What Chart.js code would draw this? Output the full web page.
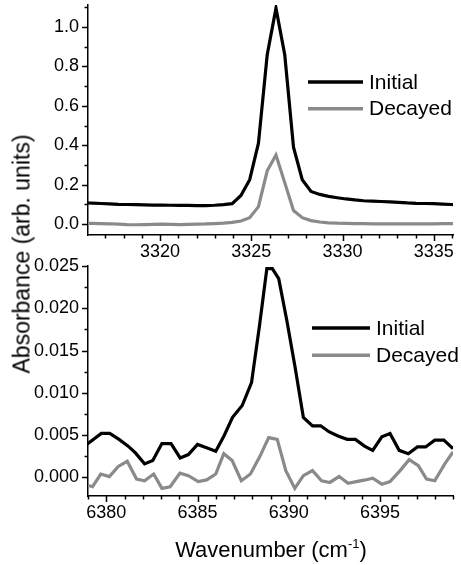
<!DOCTYPE html>
<html><head><meta charset="utf-8">
<script src="https://cdn.jsdelivr.net/npm/chart.js@4/dist/chart.umd.min.js"></script>
<style>
html,body{margin:0;padding:0;background:#fff;width:461px;height:565px;overflow:hidden}
#wrap{position:relative;width:461px;height:565px;font-family:"Liberation Sans",Arial,sans-serif;color:#000}
canvas{position:absolute;left:0;top:0}
#ytitle{position:absolute;left:22px;top:254px;transform:translate(-50%,-50%) rotate(-90deg);white-space:nowrap;font-size:23px}
#xtitle{position:absolute;left:271px;top:550px;transform:translate(-50%,-50%);white-space:nowrap;font-size:22px}
#xtitle sup{font-size:13px;vertical-align:9px;line-height:0}
</style></head>
<body><div id="wrap">
<canvas id="top" width="461" height="565"></canvas>
<canvas id="bot" width="461" height="565"></canvas>
<div id="ytitle">Absorbance (arb. units)</div>
<div id="xtitle">Wavenumber (cm<sup>-1</sup>)</div>
</div>
<script>
// ---------- data: upper panel (3 µm region) ----------
const topWavenumber = [3315.79,3316.27,3316.75,3317.23,3317.71,3318.19,3318.67,3319.15,3319.63,3320.11,3320.59,3321.07,3321.55,3322.03,3322.51,3322.99,3323.47,3323.95,3324.43,3324.91,3325.39,3325.87,3326.35,3326.83,3327.31,3327.79,3328.27,3328.75,3329.23,3329.71,3330.19,3330.67,3331.15,3331.63,3332.11,3332.59,3333.07,3333.55,3334.03,3334.51,3334.99,3335.47,3335.95,3336.43];
const topInitial = [0.107,0.106,0.104,0.102,0.100,0.099,0.098,0.097,0.096,0.096,0.095,0.094,0.094,0.093,0.093,0.095,0.098,0.103,0.145,0.225,0.41,0.86,1.096,0.86,0.39,0.225,0.165,0.150,0.140,0.133,0.127,0.122,0.118,0.116,0.114,0.112,0.110,0.107,0.105,0.104,0.103,0.101,0.099,0.097];
const topDecayed = [0.003,0.003,0.002,0.001,-0.001,-0.003,-0.004,-0.003,-0.002,-0.001,-0.002,-0.003,-0.002,-0.001,0.000,0.002,0.004,0.008,0.015,0.032,0.088,0.27,0.35,0.21,0.068,0.032,0.017,0.010,0.006,0.004,0.003,0.002,0.002,0.001,0.001,0.001,0.000,0.000,0.001,0.001,0.001,0.002,0.002,0.002];
const topXTicks = [3320,3325,3330,3335];
const topYTicks = [0.0,0.2,0.4,0.6,0.8,1.0];

// ---------- data: lower panel (overtone region) ----------
const botWavenumberInitial = [6378.8,6379.0,6379.73,6380.19,6380.7,6381.2,6381.6,6382.1,6382.55,6383.05,6383.55,6384.05,6384.5,6385.0,6385.5,6386.0,6386.45,6386.92,6387.45,6387.96,6388.4,6388.8,6389.1,6389.45,6389.9,6390.35,6390.8,6391.3,6391.75,6392.2,6392.7,6393.2,6393.65,6394.15,6394.6,6395.1,6395.55,6396.05,6396.55,6397.05,6397.5,6398.0,6398.5,6399.0];
const botInitial = [0.0037,0.0040,0.0052,0.0052,0.0045,0.0037,0.0029,0.0016,0.0020,0.0040,0.0040,0.0023,0.0027,0.0039,0.0035,0.0031,0.0049,0.0071,0.0085,0.0112,0.0180,0.0247,0.0247,0.0235,0.0185,0.0130,0.0071,0.0061,0.0061,0.0054,0.0049,0.0045,0.0045,0.0037,0.0032,0.0048,0.0052,0.0032,0.0028,0.0036,0.0036,0.0044,0.0044,0.0034];
const botWavenumberDecayed = [6379.0,6379.25,6379.7,6380.17,6380.66,6381.15,6381.66,6382.1,6382.6,6383.05,6383.5,6384.04,6384.5,6385.04,6385.5,6386.0,6386.44,6386.9,6387.4,6387.9,6388.4,6388.9,6389.37,6389.84,6390.33,6390.8,6391.3,6391.8,6392.25,6392.76,6393.25,6393.7,6394.2,6394.6,6395.1,6395.55,6396.1,6396.6,6397.1,6397.55,6398.0,6398.55,6399.0];
const botDecayed = [-0.00095,-0.0011,0.0004,0.0001,0.0013,0.0019,-0.0002,-0.0004,0.0004,-0.0013,-0.0011,0.0005,0.0002,-0.0005,-0.0003,0.0004,0.0028,0.0020,-0.0004,0.0004,0.0024,0.0047,0.0045,0.0008,-0.0013,0.0002,0.0008,-0.0004,-0.0006,0.0001,-0.0007,-0.0005,-0.0003,-0.0001,-0.0008,-0.0005,0.0008,0.0021,0.0014,-0.0002,-0.0004,0.0016,0.0030];
const botXTicks = [6380,6385,6390,6395];
const botYTicks = [0.000,0.005,0.010,0.015,0.020,0.025];

const seriesNames = ['Initial','Decayed'];
const seriesColors = ['#000000','#8a8a8a'];

const FONT = '"Liberation Sans", Arial, sans-serif';
const W = 461, H = 565;

const axisTicks = {
  id: 'axisTicks',
  afterDraw(chart, args, o) {
    const ctx = chart.ctx, xs = chart.scales.x, ys = chart.scales.y, a = chart.chartArea;
    ctx.save();
    ctx.strokeStyle = '#000';
    ctx.lineWidth = 1.5;
    const n0 = Math.ceil(xs.min / o.xMinor - 1e-6), n1 = Math.floor(xs.max / o.xMinor + 1e-6);
    for (let n = n0; n <= n1; n++) {
      const px = Math.round(xs.getPixelForValue(n * o.xMinor)) + 0.5;
      const len = (n % o.xRatio === 0) ? 6 : 3.5;
      ctx.beginPath(); ctx.moveTo(px, a.bottom); ctx.lineTo(px, a.bottom + len); ctx.stroke();
    }
    const m0 = Math.ceil(ys.min / o.yMinor - 1e-6), m1 = Math.floor(ys.max / o.yMinor + 1e-6);
    for (let m = m0; m <= m1; m++) {
      const py = Math.round(ys.getPixelForValue(m * o.yMinor)) + 0.5;
      const len = (m % o.yRatio === 0) ? 6 : 3.5;
      ctx.beginPath(); ctx.moveTo(a.left, py); ctx.lineTo(a.left - len, py); ctx.stroke();
    }
    ctx.restore();
  }
};

const inLegend = {
  id: 'inLegend',
  afterDraw(chart, args, o) {
    const ctx = chart.ctx;
    ctx.save();
    chart.data.datasets.forEach((ds, i) => {
      const y = o.y + i * o.gap;
      ctx.strokeStyle = ds.borderColor;
      ctx.lineWidth = 3.5;
      ctx.beginPath(); ctx.moveTo(o.x, y); ctx.lineTo(o.x + o.len, y); ctx.stroke();
      ctx.fillStyle = '#000';
      ctx.font = '21px ' + FONT;
      ctx.textBaseline = 'middle';
      ctx.textAlign = 'left';
      ctx.fillText(ds.label, o.x + o.len + 6, y + 1);
    });
    ctx.restore();
  }
};

function panel(id, p) {
  const XH = 30;
  return new Chart(document.getElementById(id), {
    type: 'line',
    data: {
      datasets: [
        { label: seriesNames[0], data: p.x1.map((x, i) => ({ x, y: p.y1[i] })), borderColor: seriesColors[0], borderWidth: 3.2, pointRadius: 0, tension: 0, fill: false, order: 1 },
        { label: seriesNames[1], data: p.x2.map((x, i) => ({ x, y: p.y2[i] })), borderColor: seriesColors[1], borderWidth: 3.2, pointRadius: 0, tension: 0, fill: false, order: 2 }
      ]
    },
    options: {
      responsive: false, animation: false, devicePixelRatio: 1,
      layout: { padding: { left: 0, right: W - 453, top: p.top, bottom: H - p.bottom - XH } },
      plugins: {
        legend: { display: false }, tooltip: { enabled: false },
        axisTicks: p.ticks, inLegend: p.legend
      },
      scales: {
        x: {
          type: 'linear', min: p.xmin, max: p.xmax,
          grid: { display: false, drawTicks: false },
          border: { display: true, color: '#000', width: 1.5 },
          ticks: { color: '#000', font: { size: 18, family: FONT }, padding: 6, autoSkip: false, maxRotation: 0,
                   callback: v => String(v) },
          afterBuildTicks: s => { s.ticks = p.xTicks.map(v => ({ value: v })); },
          afterFit: s => { s.height = XH; s.paddingLeft = 0; s.paddingRight = 0; }
        },
        y: {
          type: 'linear', min: p.ymin, max: p.ymax,
          grid: { display: false, drawTicks: false },
          border: { display: true, color: '#000', width: 1.5 },
          ticks: { color: '#000', font: { size: 18, family: FONT }, padding: 9, autoSkip: false,
                   callback: v => v.toFixed(p.dec) },
          afterBuildTicks: s => { s.ticks = p.yTicks.map(v => ({ value: v })); },
          afterFit: s => { s.width = 88; s.paddingTop = 0; s.paddingBottom = 0; }
        }
      }
    },
    plugins: [axisTicks, inLegend]
  });
}

panel('top', {
  x1: topWavenumber, y1: topInitial, x2: topWavenumber, y2: topDecayed,
  xmin: 3316.05, xmax: 3336.05, ymin: -0.056, ymax: 1.112,
  xTicks: topXTicks, yTicks: topYTicks, dec: 1,
  top: 5, bottom: 235,
  ticks: { xMinor: 1, xRatio: 5, yMinor: 0.1, yRatio: 2 },
  legend: { x: 308, len: 55, y: 82, gap: 26.7 }
});

panel('bot', {
  x1: botWavenumberInitial, y1: botInitial, x2: botWavenumberDecayed, y2: botDecayed,
  xmin: 6379, xmax: 6399, ymin: -0.0022, ymax: 0.025,
  xTicks: botXTicks, yTicks: botYTicks, dec: 3,
  top: 266, bottom: 496,
  ticks: { xMinor: 1, xRatio: 5, yMinor: 0.0025, yRatio: 2 },
  legend: { x: 312, len: 58, y: 328, gap: 27.3 }
});
</script>
</body></html>
